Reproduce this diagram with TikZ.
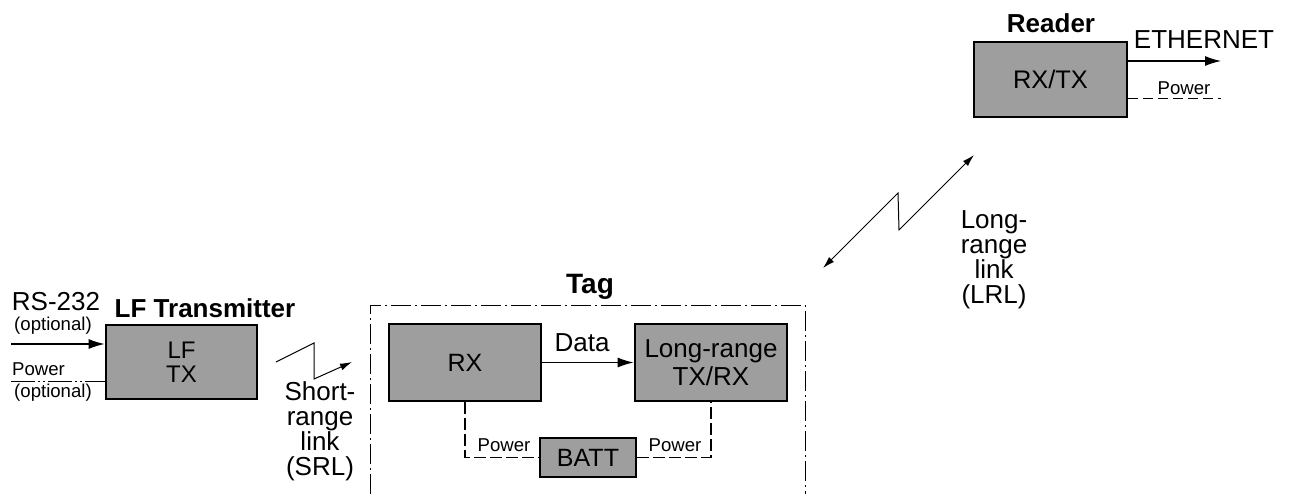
\documentclass[tikz,border=0pt]{standalone}
\usepackage{fontspec}
\setmainfont{Liberation Sans}
\usetikzlibrary{arrows.meta}

\tikzset{
  blockbox/.style={draw, line width=1.4pt, fill=black!38, align=center, inner sep=0pt,
    minimum width=76pt, minimum height=38.5pt, font=\fontsize{12.5}{14}\selectfont},
  lbl/.style={inner sep=0pt, align=center, font=\fontsize{13}{12.5}\selectfont},
  smalllbl/.style={inner sep=0pt, font=\fontsize{9.3}{10}\selectfont},
  ttl/.style={inner sep=0pt, font=\fontsize{13}{14}\selectfont\bfseries},
  fatarrow/.style={-{Latex[length=8pt,width=5pt]}, line width=0.6pt},
  linkarrow/.style={line width=0.5pt},
  pwrline/.style={line width=0.6pt, dash pattern=on 6pt off 2pt},
  tagframe/.style={line width=0.5pt, dash pattern=on 10pt off 2pt on 1pt off 2pt}
}

\begin{document}
\begin{tikzpicture}[x=0.5pt, y=-0.5pt]
  \useasboundingbox (0,0) rectangle (1289,494);

  % LF transmitter
  \node[blockbox, minimum width=75.5pt, minimum height=37pt, font=\fontsize{12}{12}\selectfont]
    (lftx) at (181.5,362) {LF\\TX};
  \node[ttl] (lftxttl) at (205,308) {LF Transmitter};
  \node[lbl] (rslbl) at (56,302) {RS-232};
  \node[smalllbl] (opt1) at (53,326) {(optional)};
  \node[smalllbl] (pwlbl) at (38.5,369) {Power};
  \node[smalllbl] (opt2) at (53,393) {(optional)};
  \coordinate (rsin) at (11,344);
  \coordinate (pwin) at (11,381);
  \draw[fatarrow] (rsin) -- (rsin -| lftx.west);
  \draw[line width=0.5pt, dash pattern=on 12pt off 1.5pt on 1pt off 1.5pt on 1pt off 1.5pt]
    (pwin) -- (pwin -| lftx.west);

  % Short-range link
  \coordinate (srla) at (276,362);
  \coordinate (srlb) at (314,343);
  \coordinate (srlc) at (314,379);
  \coordinate (srld) at (352,362);
  \draw[linkarrow, -{Latex[length=6pt,width=3.5pt]}] (srla) -- (srlb) -- (srlc) -- (srld);
  \node[lbl] (srllbl) at (320,431) {Short-\\range\\link\\(SRL)};

  % Tag
  \draw[tagframe] (370,494) -- (370,305) -- (805,305) -- (805,494);
  \node[ttl, font=\fontsize{14}{15}\selectfont\bfseries] (tagttl) at (590,287) {Tag};
  \node[blockbox, font=\fontsize{12.5}{14}\selectfont] (rx) at (465,362.5) {RX};
  \node[blockbox, font=\fontsize{13}{14}\selectfont] (lr) at (711,362.5) {Long-range\\TX/RX};
  \node[blockbox, minimum width=48pt, minimum height=19.5pt] (batt) at (588,457.5) {BATT};
  \draw[fatarrow] (rx) -- (lr);
  \node[lbl] (datalbl) at (582,343) {Data};
  \draw[pwrline] (rx.south) -- (rx.south |- batt.west) -- (batt.west);
  \draw[pwrline] (batt.east) -- (lr.south |- batt.east) -- (lr.south);
  \node[smalllbl] (pwl) at (504,445) {Power};
  \node[smalllbl] (pwr) at (675,445) {Power};

  % Long-range link
  \coordinate (lrla) at (823,268);
  \coordinate (lrlb) at (898,193);
  \coordinate (lrlc) at (899,230);
  \coordinate (lrld) at (974,155);
  \draw[linkarrow, {Latex[length=6pt,width=3.5pt]}-{Latex[length=6pt,width=3.5pt]}]
    (lrla) -- (lrlb) -- (lrlc) -- (lrld);
  \node[lbl] (lrllbl) at (994,260) {Long-\\range\\link\\(LRL)};

  % Reader
  \node[blockbox, minimum width=76.5pt, minimum height=37.5pt, font=\fontsize{12.7}{14}\selectfont]
    (rdr) at (1050.5,79.5) {RX/TX};
  \node[ttl] (rdrttl) at (1051,23) {Reader};
  \coordinate (ethout) at (1221,61);
  \coordinate (rpw) at (1221,98);
  \draw[fatarrow] (ethout -| rdr.east) -- (ethout);
  \node[lbl] (ethlbl) at (1204,40) {ETHERNET};
  \draw[line width=0.5pt, dash pattern=on 5pt off 2.5pt] (rpw -| rdr.east) -- (rpw);
  \node[smalllbl] (rpwlbl) at (1184,88) {Power};
\end{tikzpicture}
\end{document}
